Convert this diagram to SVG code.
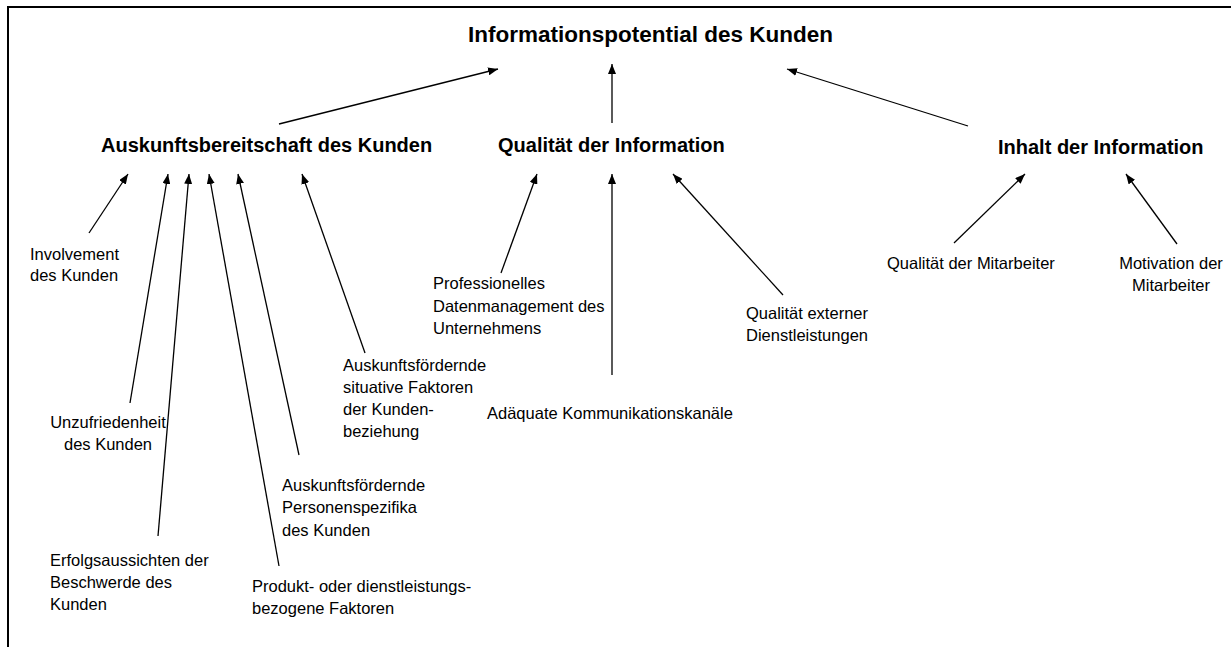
<svg xmlns="http://www.w3.org/2000/svg" width="1231" height="647" viewBox="0 0 1231 647">
<style>
.t{font-family:"Liberation Sans",Arial,sans-serif;font-size:22.5px;font-weight:bold;fill:#000}
.h{font-family:"Liberation Sans",Arial,sans-serif;font-size:20px;font-weight:bold;fill:#000}
.s{font-family:"Liberation Sans",Arial,sans-serif;font-size:16.5px;fill:#000}
.c line{stroke:#000;stroke-width:1.3;marker-end:url(#ah)}
</style>
<defs>
<marker id="ah" viewBox="0 0 10 8" refX="10" refY="4" markerWidth="10" markerHeight="8" markerUnits="userSpaceOnUse" orient="auto">
<path d="M0,0 L10,4 L0,8 z" fill="#000"/>
</marker>
</defs>
<rect width="1231" height="647" fill="#fff"/>
<path d="M8,647 V7 H1231" fill="none" stroke="#000" stroke-width="2"/>
<g class="c" id="connectors">
<line x1="279" y1="124" x2="498" y2="69"/>
<line x1="612" y1="123" x2="612" y2="64"/>
<line x1="968" y1="126" x2="787" y2="69"/>
<line x1="89" y1="233" x2="128" y2="174"/>
<line x1="130" y1="403" x2="168" y2="174"/>
<line x1="158" y1="536" x2="189" y2="174"/>
<line x1="279" y1="566" x2="209" y2="174"/>
<line x1="299" y1="455" x2="238" y2="174"/>
<line x1="365" y1="353" x2="302" y2="174"/>
<line x1="501" y1="273" x2="537" y2="174"/>
<line x1="612" y1="375" x2="612" y2="174"/>
<line x1="783" y1="295" x2="673" y2="174"/>
<line x1="954" y1="243" x2="1025" y2="174"/>
<line x1="1177" y1="244" x2="1126" y2="174"/>
</g>
<g id="n-root"><text class="t" x="468" y="42">Informationspotential des Kunden</text></g>
<g id="n-auskunft"><text class="h" x="101" y="152">Auskunftsbereitschaft des Kunden</text></g>
<g id="n-qualitaet"><text class="h" x="498" y="152">Qualität der Information</text></g>
<g id="n-inhalt"><text class="h" x="998" y="154">Inhalt der Information</text></g>
<g id="n-involvement"><text class="s" x="30" y="260">Involvement<tspan x="30" y="281">des Kunden</tspan></text></g>
<g id="n-unzufrieden"><text class="s" x="108" y="428" text-anchor="middle">Unzufriedenheit<tspan x="108" y="450">des Kunden</tspan></text></g>
<g id="n-erfolg"><text class="s" x="50" y="566">Erfolgsaussichten der<tspan x="50" y="588">Beschwerde des</tspan><tspan x="50" y="610">Kunden</tspan></text></g>
<g id="n-produkt"><text class="s" x="252" y="592">Produkt- oder dienstleistungs-<tspan x="252" y="614">bezogene Faktoren</tspan></text></g>
<g id="n-person"><text class="s" x="282" y="491">Auskunftsfördernde<tspan x="282" y="513">Personenspezifika</tspan><tspan x="282" y="536">des Kunden</tspan></text></g>
<g id="n-situativ"><text class="s" x="343" y="371">Auskunftsfördernde<tspan x="343" y="393">situative Faktoren</tspan><tspan x="343" y="415">der Kunden-</tspan><tspan x="343" y="437">beziehung</tspan></text></g>
<g id="n-daten"><text class="s" x="433" y="289">Professionelles<tspan x="433" y="312">Datenmanagement des</tspan><tspan x="433" y="334">Unternehmens</tspan></text></g>
<g id="n-kanaele"><text class="s" x="487" y="419">Adäquate Kommunikationskanäle</text></g>
<g id="n-extern"><text class="s" x="746" y="319">Qualität externer<tspan x="746" y="341">Dienstleistungen</tspan></text></g>
<g id="n-mitarbeiter"><text class="s" x="887" y="269">Qualität der Mitarbeiter</text></g>
<g id="n-motivation"><text class="s" x="1171" y="269" text-anchor="middle">Motivation der<tspan x="1171" y="291">Mitarbeiter</tspan></text></g>
</svg>
